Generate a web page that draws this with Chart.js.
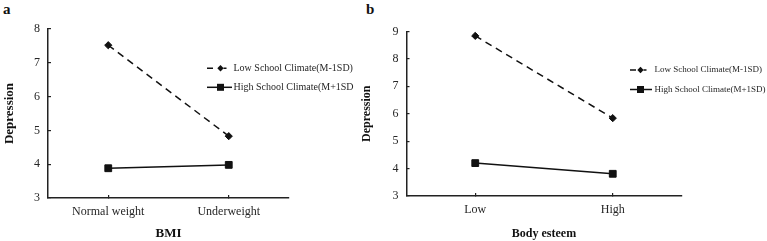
<!DOCTYPE html>
<html><head><meta charset="utf-8">
<script src="https://cdn.jsdelivr.net/npm/chart.js@4/dist/chart.umd.min.js"></script>
<style>
html,body{margin:0;padding:0;background:#fff}
body{width:767px;height:241px;position:relative;overflow:hidden;font-family:"Liberation Serif","Times New Roman",serif}
.panel{position:absolute;top:0;height:241px}
.lab{position:absolute;font-weight:bold;font-size:15px;line-height:15px;color:#111}
</style></head><body>
<div class="lab" style="left:3px;top:2px">a</div>
<div class="lab" style="left:366px;top:2px">b</div>
<div class="panel" style="left:0;width:355px"><canvas id="ca" width="355" height="241"></canvas></div>
<div class="panel" style="left:355px;width:412px"><canvas id="cb" width="412" height="241"></canvas></div>
<script>
// ---- data ----
const categoriesA = ['Normal weight', 'Underweight'];
const lowClimateA = [7.52, 4.83];
const highClimateA = [3.88, 3.98];
const yTicksA = [3, 4, 5, 6, 7, 8];

const categoriesB = ['Low', 'High'];
const lowClimateB = [8.84, 5.84];
const highClimateB = [4.20, 3.81];
const yTicksB = [3, 4, 5, 6, 7, 8, 9];

const seriesLabelsA = ['Low School Climate(M-1SD)', 'High School Climate(M+1SD'];
const seriesLabelsB = ['Low School Climate(M-1SD)', 'High School Climate(M+1SD)'];
const axisTitlesA = { x: 'BMI', y: 'Depression' };
const axisTitlesB = { x: 'Body esteem', y: 'Depression' };

const INK = '#111';
const TXT = '#262626';
const SERIF = '"Liberation Serif","Times New Roman",serif';

// custom legend drawn inside the canvas
const legendPlugin = {
  id: 'customLegend',
  afterDraw(chart, args, o) {
    const ctx = chart.ctx;
    ctx.save();
    chart.data.datasets.forEach((ds, i) => {
      const y = o.y0 + i * o.dy;
      ctx.strokeStyle = INK;
      ctx.lineWidth = 1.5;
      if (ds.borderDash && ds.borderDash.length) {
        ctx.beginPath();
        ctx.moveTo(o.x0, y); ctx.lineTo(o.x0 + 6, y);
        ctx.moveTo(o.mx + 3, y); ctx.lineTo(o.mx + 6, y);
        ctx.stroke();
      } else {
        ctx.beginPath();
        ctx.moveTo(o.x0, y); ctx.lineTo(o.x1, y);
        ctx.stroke();
      }
      ctx.fillStyle = INK;
      ctx.beginPath();
      if (ds.pointStyle === 'rectRot') {
        const r = 3.2;
        ctx.moveTo(o.mx - r, y); ctx.lineTo(o.mx, y - r);
        ctx.lineTo(o.mx + r, y); ctx.lineTo(o.mx, y + r);
        ctx.closePath();
      } else {
        const s = 3.5;
        ctx.rect(o.mx - s, y - s, 2 * s, 2 * s);
      }
      ctx.fill();
      ctx.font = o.fontSize + 'px ' + SERIF;
      ctx.fillStyle = TXT;
      ctx.textBaseline = 'middle';
      ctx.textAlign = 'left';
      ctx.fillText(ds.label, o.tx, y);
    });
    ctx.restore();
  }
};

function makeChart(id, cfg) {
  const datasets = [
    {
      label: cfg.labels[0], data: cfg.low,
      borderColor: INK, backgroundColor: INK, borderWidth: 1.5,
      borderDash: [7, 5], pointStyle: 'rectRot', pointRadius: 3.6,
      pointBorderWidth: 1, pointBackgroundColor: INK, pointBorderColor: INK
    },
    {
      label: cfg.labels[1], data: cfg.high,
      borderColor: INK, backgroundColor: INK, borderWidth: 1.5,
      pointStyle: 'rect', pointRadius: 4.8,
      pointBorderWidth: 1, pointBackgroundColor: INK, pointBorderColor: INK
    }
  ];
  return new Chart(document.getElementById(id), {
    type: 'line',
    data: { labels: cfg.categories, datasets },
    plugins: [legendPlugin],
    options: {
      responsive: false,
      animation: false,
      events: [],
      layout: { padding: { left: 0, top: cfg.top, right: cfg.right, bottom: 0 } },
      plugins: {
        legend: { display: false },
        tooltip: { enabled: false },
        customLegend: cfg.legend
      },
      scales: {
        x: {
          type: 'category',
          offset: true,
          grid: { offset: false, drawOnChartArea: false, drawTicks: true, tickLength: -3, color: '#222', lineWidth: 1.2 },
          border: { color: '#222', width: 1.5 },
          ticks: { color: TXT, font: { family: SERIF, size: 12 }, padding: 10, maxRotation: 0, autoSkip: false },
          title: { display: true, text: cfg.titles.x, color: '#111', font: { family: SERIF, size: cfg.xTitleSize, weight: 'bold' }, padding: { top: cfg.xTitlePad, bottom: 0 } },
          afterFit(s) { s.height = cfg.xHeight; }
        },
        y: {
          min: cfg.yTicks[0],
          max: cfg.yTicks[cfg.yTicks.length - 1],
          afterBuildTicks(s) { s.ticks = cfg.yTicks.map(v => ({ value: v })); },
          grid: { drawOnChartArea: false, drawTicks: true, tickLength: -3, color: '#222', lineWidth: 1.2 },
          border: { color: '#222', width: 1.5 },
          ticks: { color: TXT, font: { family: SERIF, size: 12 }, padding: 11 },
          title: { display: true, text: cfg.titles.y, color: '#111', font: { family: SERIF, size: cfg.yTitleSize, weight: 'bold' }, padding: { top: cfg.yTitlePad, bottom: 0 } },
          afterFit(s) { s.width = cfg.yWidth; }
        }
      }
    }
  });
}

makeChart('ca', {
  categories: categoriesA, low: lowClimateA, high: highClimateA, yTicks: yTicksA,
  labels: seriesLabelsA, titles: axisTitlesA,
  top: 29, right: 66, yWidth: 48, xHeight: 43,
  xTitleSize: 13, xTitlePad: 0, yTitleSize: 13, yTitlePad: 2,
  legend: { x0: 207, x1: 232, mx: 220.5, tx: 233.5, y0: 68.3, dy: 19, fontSize: 10 }
});

makeChart('cb', {
  categories: categoriesB, low: lowClimateB, high: highClimateB, yTicks: yTicksB,
  labels: seriesLabelsB, titles: axisTitlesB,
  top: 31.5, right: 85.5, yWidth: 51.5, xHeight: 45,
  xTitleSize: 12, xTitlePad: 4.5, yTitleSize: 12, yTitlePad: 5,
  legend: { x0: 275, x1: 297, mx: 285.5, tx: 299.5, y0: 70, dy: 19.5, fontSize: 9 }
});
</script>
</body></html>
